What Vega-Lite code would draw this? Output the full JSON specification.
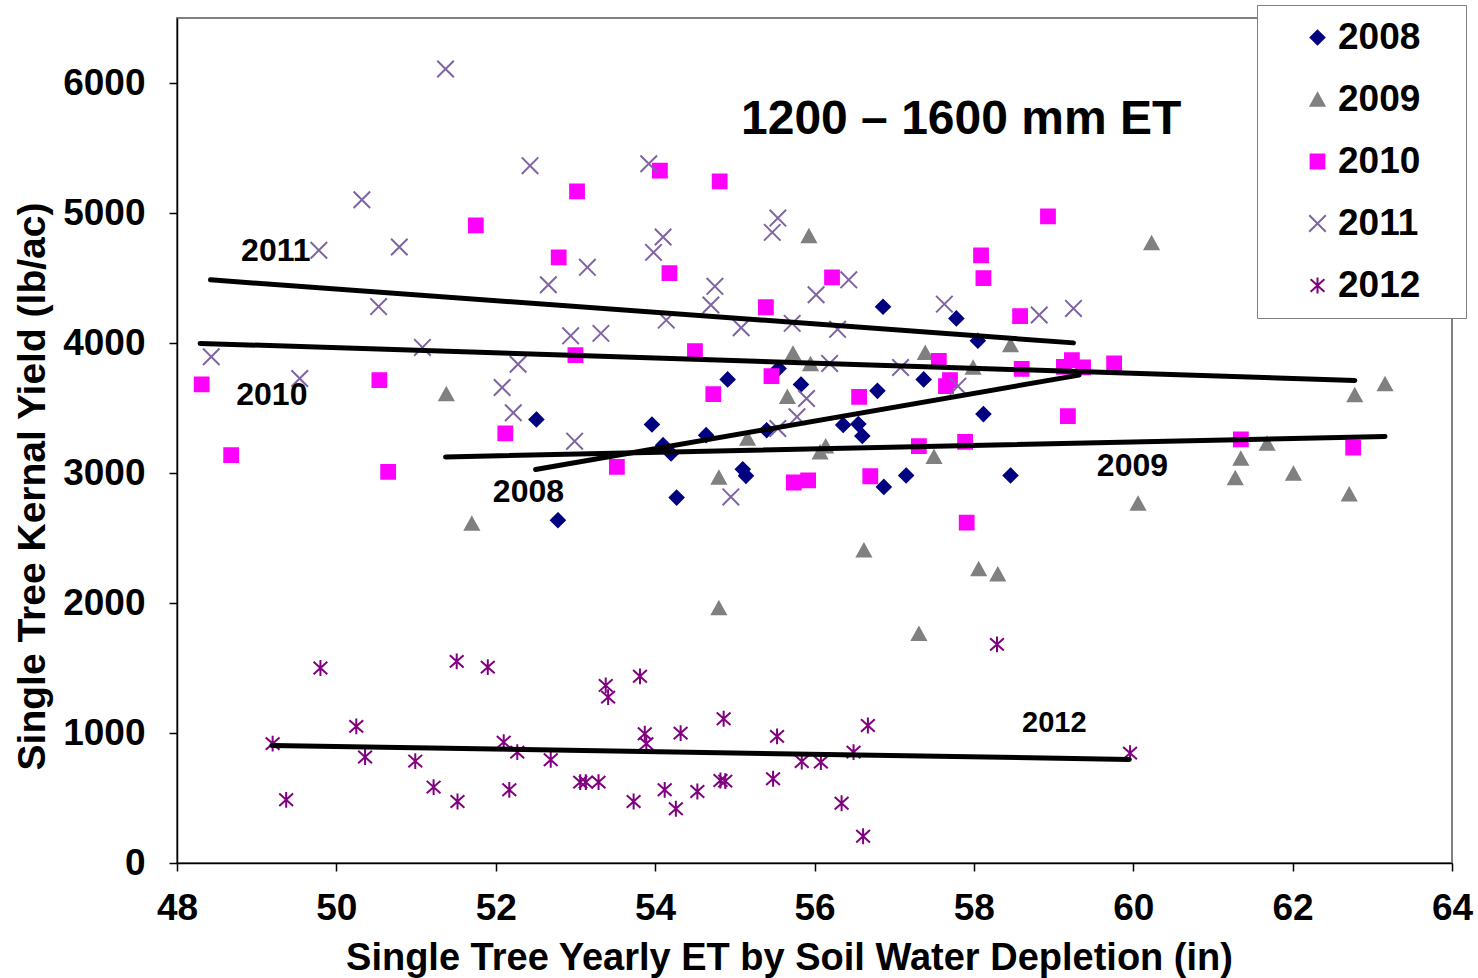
{
  "$schema": "https://vega.github.io/schema/vega-lite/v6.json",
  "width": 1275,
  "height": 845,
  "autosize": "none",
  "padding": {"left": 177, "top": 18, "right": 26, "bottom": 115},
  "background": "white",
  "config": {
    "font": "Liberation Sans",
    "view": {"stroke": "#808080", "strokeWidth": 2},
    "axis": {
      "labelFont": "Liberation Sans", "labelFontWeight": "bold", "labelFontSize": 37, "labelColor": "black",
      "titleFont": "Liberation Sans", "titleFontWeight": "bold", "titleFontSize": 38, "titleColor": "black",
      "domainColor": "black", "domainWidth": 1.5, "tickColor": "black", "tickWidth": 1.5, "tickSize": 8, "grid": false
    }
  },
  "datasets": {
    "points": [
      {"year":"2008","x":52.51,"y":3412},{"year":"2008","x":52.78,"y":2637},{"year":"2008","x":53.96,"y":3373},{"year":"2008","x":54.10,"y":3214},{"year":"2008","x":54.20,"y":3150},{"year":"2008","x":54.27,"y":2811},{"year":"2008","x":54.64,"y":3291},{"year":"2008","x":54.91,"y":3720},{"year":"2008","x":55.10,"y":3029},{"year":"2008","x":55.14,"y":2978},{"year":"2008","x":55.40,"y":3329},{"year":"2008","x":55.55,"y":3804},{"year":"2008","x":55.83,"y":3681},{"year":"2008","x":56.36,"y":3370},{"year":"2008","x":56.55,"y":3376},{"year":"2008","x":56.60,"y":3285},{"year":"2008","x":56.79,"y":3632},{"year":"2008","x":56.86,"y":4279},{"year":"2008","x":56.87,"y":2893},{"year":"2008","x":57.15,"y":2981},{"year":"2008","x":57.37,"y":3720},{"year":"2008","x":57.78,"y":4189},{"year":"2008","x":58.05,"y":4017},{"year":"2008","x":58.12,"y":3453},{"year":"2008","x":58.46,"y":2981},
      {"year":"2009","x":51.38,"y":3607},{"year":"2009","x":51.70,"y":2611},{"year":"2009","x":54.80,"y":2965},{"year":"2009","x":54.80,"y":1961},{"year":"2009","x":55.16,"y":3265},{"year":"2009","x":55.66,"y":3586},{"year":"2009","x":55.73,"y":3920},{"year":"2009","x":55.93,"y":4823},{"year":"2009","x":55.95,"y":3838},{"year":"2009","x":56.07,"y":3160},{"year":"2009","x":56.14,"y":3206},{"year":"2009","x":56.62,"y":2406},{"year":"2009","x":57.31,"y":1764},{"year":"2009","x":57.39,"y":3924},{"year":"2009","x":57.50,"y":3124},{"year":"2009","x":57.99,"y":3812},{"year":"2009","x":58.06,"y":2262},{"year":"2009","x":58.30,"y":2221},{"year":"2009","x":58.46,"y":3984},{"year":"2009","x":60.06,"y":2765},{"year":"2009","x":60.23,"y":4769},{"year":"2009","x":61.28,"y":2962},{"year":"2009","x":61.35,"y":3111},{"year":"2009","x":61.68,"y":3227},{"year":"2009","x":62.01,"y":2996},{"year":"2009","x":62.71,"y":2837},{"year":"2009","x":62.78,"y":3599},{"year":"2009","x":63.16,"y":3684},
      {"year":"2010","x":48.31,"y":3681},{"year":"2010","x":48.68,"y":3137},{"year":"2010","x":50.54,"y":3714},{"year":"2010","x":50.65,"y":3008},{"year":"2010","x":51.75,"y":4905},{"year":"2010","x":52.12,"y":3304},{"year":"2010","x":52.79,"y":4659},{"year":"2010","x":53.00,"y":3907},{"year":"2010","x":53.02,"y":5167},{"year":"2010","x":53.52,"y":3047},{"year":"2010","x":54.06,"y":5326},{"year":"2010","x":54.18,"y":4538},{"year":"2010","x":54.50,"y":3937},{"year":"2010","x":54.73,"y":3607},{"year":"2010","x":54.81,"y":5244},{"year":"2010","x":55.39,"y":4275},{"year":"2010","x":55.46,"y":3745},{"year":"2010","x":55.74,"y":2927},{"year":"2010","x":55.92,"y":2944},{"year":"2010","x":56.22,"y":4505},{"year":"2010","x":56.56,"y":3586},{"year":"2010","x":56.70,"y":2975},{"year":"2010","x":57.31,"y":3206},{"year":"2010","x":57.56,"y":3863},{"year":"2010","x":57.65,"y":3668},{"year":"2010","x":57.70,"y":3714},{"year":"2010","x":57.89,"y":3239},{"year":"2010","x":57.91,"y":2619},{"year":"2010","x":58.09,"y":4674},{"year":"2010","x":58.12,"y":4499},{"year":"2010","x":58.58,"y":4207},{"year":"2010","x":58.60,"y":3801},{"year":"2010","x":58.93,"y":4974},{"year":"2010","x":59.13,"y":3817},{"year":"2010","x":59.23,"y":3868},{"year":"2010","x":59.37,"y":3812},{"year":"2010","x":59.76,"y":3843},{"year":"2010","x":59.18,"y":3437},{"year":"2010","x":61.35,"y":3258},{"year":"2010","x":62.76,"y":3196},
      {"year":"2011","x":48.43,"y":3894},{"year":"2011","x":49.54,"y":3727},{"year":"2011","x":49.78,"y":4713},{"year":"2011","x":50.32,"y":5102},{"year":"2011","x":50.53,"y":4280},{"year":"2011","x":50.79,"y":4738},{"year":"2011","x":51.08,"y":3966},{"year":"2011","x":51.37,"y":6108},{"year":"2011","x":52.08,"y":3658},{"year":"2011","x":52.22,"y":3463},{"year":"2011","x":52.28,"y":3837},{"year":"2011","x":52.43,"y":5364},{"year":"2011","x":52.66,"y":4448},{"year":"2011","x":52.94,"y":4055},{"year":"2011","x":52.99,"y":3245},{"year":"2011","x":53.15,"y":4582},{"year":"2011","x":53.32,"y":4074},{"year":"2011","x":53.92,"y":5379},{"year":"2011","x":53.98,"y":4697},{"year":"2011","x":54.10,"y":4815},{"year":"2011","x":54.14,"y":4176},{"year":"2011","x":54.70,"y":4292},{"year":"2011","x":54.75,"y":4436},{"year":"2011","x":54.95,"y":2816},{"year":"2011","x":55.08,"y":4117},{"year":"2011","x":55.47,"y":4851},{"year":"2011","x":55.54,"y":4961},{"year":"2011","x":55.54,"y":3342},{"year":"2011","x":55.72,"y":4151},{"year":"2011","x":55.78,"y":3432},{"year":"2011","x":55.90,"y":3573},{"year":"2011","x":56.02,"y":4371},{"year":"2011","x":56.19,"y":3843},{"year":"2011","x":56.29,"y":4105},{"year":"2011","x":56.43,"y":4486},{"year":"2011","x":57.08,"y":3812},{"year":"2011","x":57.63,"y":4299},{"year":"2011","x":57.80,"y":3668},{"year":"2011","x":58.82,"y":4215},{"year":"2011","x":59.25,"y":4266},
      {"year":"2012","x":49.20,"y":918},{"year":"2012","x":49.37,"y":486},{"year":"2012","x":49.80,"y":1500},{"year":"2012","x":50.25,"y":1051},{"year":"2012","x":50.36,"y":815},{"year":"2012","x":50.99,"y":784},{"year":"2012","x":51.22,"y":584},{"year":"2012","x":51.51,"y":1551},{"year":"2012","x":51.52,"y":473},{"year":"2012","x":51.90,"y":1507},{"year":"2012","x":52.10,"y":930},{"year":"2012","x":52.17,"y":563},{"year":"2012","x":52.27,"y":853},{"year":"2012","x":52.69,"y":794},{"year":"2012","x":53.06,"y":622},{"year":"2012","x":53.13,"y":622},{"year":"2012","x":53.29,"y":622},{"year":"2012","x":53.38,"y":1366},{"year":"2012","x":53.41,"y":1276},{"year":"2012","x":53.73,"y":473},{"year":"2012","x":53.81,"y":1436},{"year":"2012","x":53.87,"y":994},{"year":"2012","x":53.89,"y":918},{"year":"2012","x":54.12,"y":563},{"year":"2012","x":54.26,"y":417},{"year":"2012","x":54.32,"y":999},{"year":"2012","x":54.53,"y":550},{"year":"2012","x":54.82,"y":635},{"year":"2012","x":54.86,"y":1110},{"year":"2012","x":54.88,"y":630},{"year":"2012","x":55.48,"y":648},{"year":"2012","x":55.53,"y":974},{"year":"2012","x":55.84,"y":781},{"year":"2012","x":56.08,"y":776},{"year":"2012","x":56.34,"y":460},{"year":"2012","x":56.49,"y":853},{"year":"2012","x":56.61,"y":206},{"year":"2012","x":56.67,"y":1058},{"year":"2012","x":58.29,"y":1682},{"year":"2012","x":59.96,"y":845}
    ],
    "trends": [
      {"series":"2011","x":48.42,"y":4486},{"series":"2011","x":59.25,"y":4001},
      {"series":"2010","x":48.29,"y":3997},{"series":"2010","x":62.78,"y":3712},
      {"series":"2009","x":51.37,"y":3124},{"series":"2009","x":63.16,"y":3281},
      {"series":"2008","x":52.50,"y":3027},{"series":"2008","x":59.32,"y":3753},
      {"series":"2012","x":49.19,"y":904},{"series":"2012","x":59.95,"y":797}
    ],
    "labels": [
      {"text":"2011","x":49.24,"y":4711},
      {"text":"2010","x":49.19,"y":3599},
      {"text":"2008","x":52.41,"y":2854},
      {"text":"2009","x":59.99,"y":3052}
    ],
    "label2012": [{"text":"2012","x":59.01,"y":1080}],
    "heading": [{"text":"1200 – 1600 mm ET","x":57.84,"y":5713}]
  },
  "encoding": {
    "x": {
      "field": "x", "type": "quantitative",
      "scale": {"domain": [48, 64], "nice": false, "zero": false},
      "axis": {"title": "Single Tree Yearly ET by Soil Water Depletion (in)", "values": [48,50,52,54,56,58,60,62,64], "labelPadding": 19, "titlePadding": 13, "titleX": 612, "labelFlush": false, "labelOverlap": false}
    },
    "y": {
      "field": "y", "type": "quantitative",
      "scale": {"domain": [0, 6500], "nice": false, "zero": false},
      "axis": {"title": "Single Tree Kernal Yield (lb/ac)", "values": [0,1000,2000,3000,4000,5000,6000], "labelPadding": 24, "titlePadding": 10, "titleY": 468, "titleFontSize": 39, "labelOverlap": false, "format": "d"}
    }
  },
  "layer": [
    {
      "data": {"name": "points"},
      "mark": {"type": "point", "opacity": 1, "strokeWidth": 2},
      "encoding": {
        "shape": {"field": "year", "type": "nominal",
          "scale": {"domain": ["2008","2009","2010","2011","2012"], "range": ["M0,-1L1,0L0,1L-1,0Z", "M0,-0.9L1,0.9L-1,0.9Z", "square", "M-1.2,-1.2L1.2,1.2M-1.2,1.2L1.2,-1.2", "M-1,-0.9L1,0.9M-1,0.9L1,-0.9M0,-1.15L0,1.15"]},
          "legend": {"title": null, "orient": "none", "legendX": 1080, "legendY": -13, "padding": 14, "strokeColor": "#808080", "fillColor": "white", "labelFont": "Liberation Sans", "labelFontWeight": "bold", "labelFontSize": 37, "labelColor": "black", "symbolSize": 190, "symbolStrokeWidth": 2, "rowPadding": 24, "labelOffset": 2, "symbolOffset": 28, "labelExpr": "datum.label + '\u00a0\u00a0\u00a0\u200b'"}},
        "fill": {"field": "year", "type": "nominal",
          "scale": {"domain": ["2008","2009","2010","2011","2012"], "range": ["#000080", "#808080", "#FF00FF", "transparent", "transparent"]},
          "legend": {"title": null, "orient": "none", "legendX": 1080, "legendY": -13, "padding": 14, "strokeColor": "#808080", "fillColor": "white", "labelFont": "Liberation Sans", "labelFontWeight": "bold", "labelFontSize": 37, "labelColor": "black", "symbolSize": 190, "symbolStrokeWidth": 2, "rowPadding": 24, "labelOffset": 2, "symbolOffset": 28, "labelExpr": "datum.label + '\u00a0\u00a0\u00a0\u200b'"}},
        "stroke": {"field": "year", "type": "nominal",
          "scale": {"domain": ["2008","2009","2010","2011","2012"], "range": ["#000080", "#808080", "#FF00FF", "#8064A2", "#800080"]},
          "legend": {"title": null, "orient": "none", "legendX": 1080, "legendY": -13, "padding": 14, "strokeColor": "#808080", "fillColor": "white", "labelFont": "Liberation Sans", "labelFontWeight": "bold", "labelFontSize": 37, "labelColor": "black", "symbolSize": 190, "symbolStrokeWidth": 2, "rowPadding": 24, "labelOffset": 2, "symbolOffset": 28, "labelExpr": "datum.label + '\u00a0\u00a0\u00a0\u200b'"}},
        "size": {"value": 190}
      }
    },
    {
      "data": {"name": "trends"},
      "mark": {"type": "line", "color": "black", "strokeWidth": 5, "strokeCap": "round"},
      "encoding": {"detail": {"field": "series"}}
    },
    {
      "data": {"name": "labels"},
      "mark": {"type": "text", "font": "Liberation Sans", "fontWeight": "bold", "fontSize": 32, "align": "center", "baseline": "middle", "color": "black"},
      "encoding": {"text": {"field": "text"}}
    },
    {
      "data": {"name": "label2012"},
      "mark": {"type": "text", "font": "Liberation Sans", "fontWeight": "bold", "fontSize": 29, "align": "center", "baseline": "middle", "color": "black"},
      "encoding": {"text": {"field": "text"}}
    },
    {
      "data": {"name": "heading"},
      "mark": {"type": "text", "font": "Liberation Sans", "fontWeight": "bold", "fontSize": 48, "align": "center", "baseline": "middle", "color": "black"},
      "encoding": {"text": {"field": "text"}}
    }
  ]
}
